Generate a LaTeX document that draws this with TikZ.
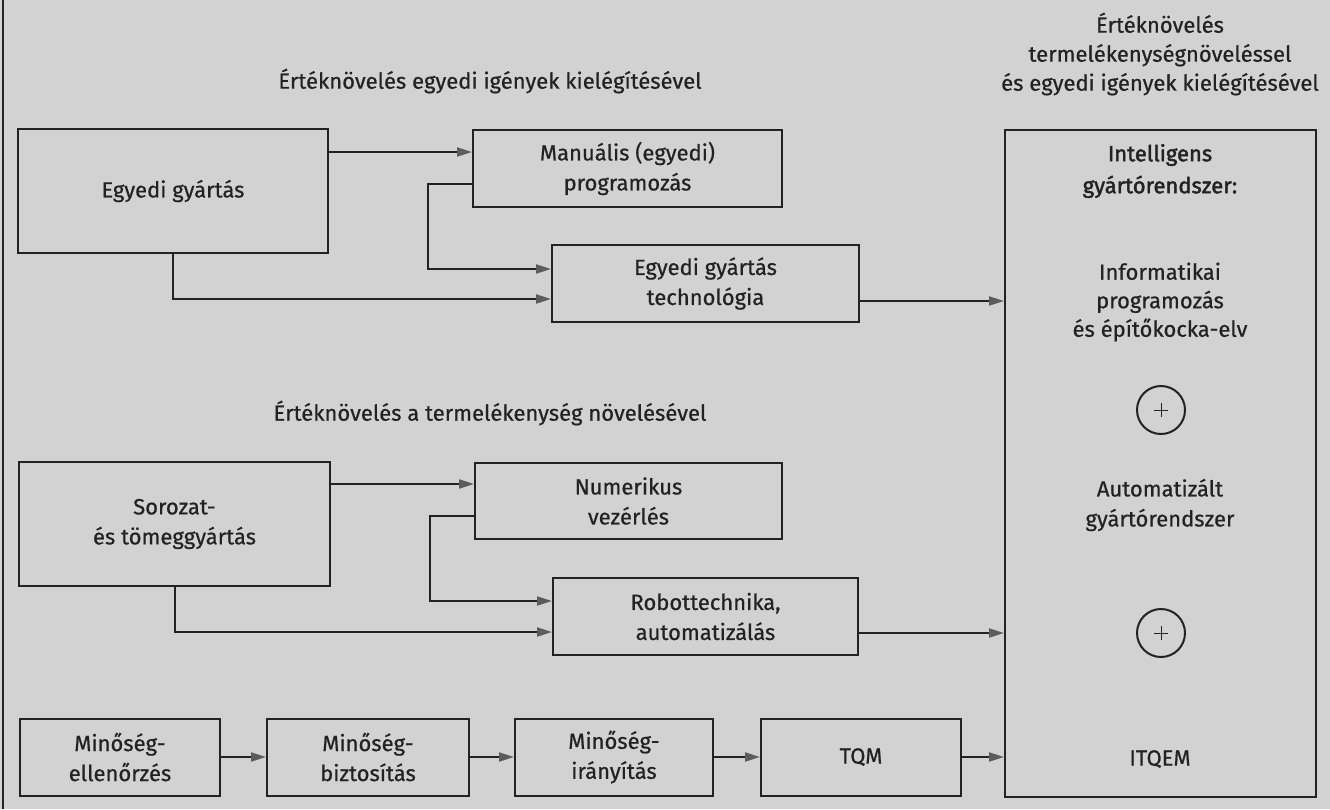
\documentclass[tikz,border=0pt]{standalone}
\usepackage{fontspec}
\setmainfont{Fira Sans}[FakeBold=0.6]
\newfontfamily\heavier{Fira Sans}[FakeBold=1.8]
\usetikzlibrary{arrows.meta}
\definecolor{paper}{HTML}{D2D2D2}
\definecolor{ink}{HTML}{222222}
\definecolor{tipgray}{HTML}{5C5C5C}
\begin{document}
\begin{tikzpicture}[x=1pt,y=-1pt,
  txt/.style={text=ink,align=center,inner sep=0pt,font=\fontsize{22}{30}\selectfont},
  blk/.style={txt,draw=ink,line width=2pt},
  arr/.style={draw=ink,line width=2pt,-{Triangle[length=15pt,width=9pt,color=tipgray]}},
  plus/.style={circle,draw=ink,line width=2pt,minimum size=48pt,inner sep=0pt,
    path picture={\draw[ink,line width=1pt]
      ([xshift=-7pt]path picture bounding box.center) -- ([xshift=7pt]path picture bounding box.center)
      ([yshift=-7pt]path picture bounding box.center) -- ([yshift=7pt]path picture bounding box.center);}}]

% page
\fill[paper] (0,0) rectangle (1330,809);
\useasboundingbox (0,0) rectangle (1330,809);
\draw[ink,line width=2pt] (3,0) -- (3,809);

% headings
\node[txt] (h1) at (490,81) {Értéknövelés egyedi igények kielégítésével};
\node[txt] (h2) at (490,413) {Értéknövelés a termelékenység növelésével};
\node[txt,font=\fontsize{22}{29}\selectfont] (h3) at (1160,54)
  {Értéknövelés\\termelékenységnöveléssel\\és egyedi igények kielégítésével};

% upper branch
\node[blk,minimum width=310pt,minimum height=124pt] (egy) at (173,191) {Egyedi gyártás};
\node[blk,minimum width=309pt,minimum height=77pt] (man) at (627.5,168.5) {Manuális (egyedi)\\programozás};
\node[blk,minimum width=307pt,minimum height=77pt] (tech) at (705.5,283.5) {Egyedi gyártás\\technológia};

% lower branch
\node[blk,minimum width=311pt,minimum height=124pt] (soro) at (174.5,524) {Sorozat-\\és tömeggyártás};
\node[blk,minimum width=307pt,minimum height=76pt] (num) at (628.5,501) {Numerikus\\vezérlés};
\node[blk,minimum width=305pt,minimum height=77pt] (robot) at (705.5,616.5) {Robottechnika,\\automatizálás};

% quality chain
\node[blk,minimum width=200pt,minimum height=77pt] (q1) at (120,757) {Minőség-\\ellenőrzés};
\node[blk,minimum width=202pt,minimum height=77pt] (q2) at (368,757) {Minőség-\\biztosítás};
\node[blk,minimum width=198pt,minimum height=77pt] (q3) at (614,757) {Minőség-\\irányítás};
\node[blk,minimum width=200pt,minimum height=77pt] (tqm) at (861,757) {TQM};

% intelligent manufacturing system
\node[blk,minimum width=311pt,minimum height=667pt] (big) at (1160.5,463.5) {};
\node[txt,font=\heavier\fontsize{22}{32}\selectfont] (b1) at (1160,171) {Intelligens\\gyártórendszer:};
\node[txt,font=\fontsize{22}{28.5}\selectfont] (b2) at (1160,302) {Informatikai\\programozás\\és építőkocka-elv};
\node[plus] (p1) at (1161,410) {};
\node[txt] (b3) at (1160,505) {Automatizált\\gyártórendszer};
\node[plus] (p2) at (1161,633) {};
\node[txt] (b4) at (1160,759) {ITQEM};

% connectors, upper branch
\coordinate (a1) at ([yshift=16.5pt]man.west);
\draw[arr] (egy.east |- a1) -- (a1);
\coordinate (m1) at ([yshift=-15.5pt]man.west);
\coordinate (t1) at ([yshift=14.5pt]tech.west);
\coordinate (k1) at (428,0);
\draw[arr] (m1) -- (m1 -| k1) -- (t1 -| k1) -- (t1);
\coordinate (t2) at ([yshift=-15.5pt]tech.west);
\draw[arr] (egy.south) |- (t2);
\coordinate (t3) at ([yshift=-17.5pt]tech.east);
\draw[arr] (t3) -- (t3 -| big.west);

% connectors, lower branch
\coordinate (a2) at ([yshift=17pt]num.west);
\draw[arr] (soro.east |- a2) -- (a2);
\coordinate (m2) at ([yshift=-15pt]num.west);
\coordinate (r1) at ([yshift=15.5pt]robot.west);
\coordinate (k2) at (430,0);
\draw[arr] (m2) -- (m2 -| k2) -- (r1 -| k2) -- (r1);
\coordinate (r2) at ([yshift=-15.5pt]robot.west);
\draw[arr] (soro.south) |- (r2);
\coordinate (r3) at ([yshift=-16.5pt]robot.east);
\draw[arr] (r3) -- (r3 -| big.west);

% connectors, quality chain
\draw[arr] (q1) -- (q2);
\draw[arr] (q2) -- (q3);
\draw[arr] (q3) -- (tqm);
\draw[arr] (tqm.east) -- (tqm.east -| big.west);
\end{tikzpicture}
\end{document}
